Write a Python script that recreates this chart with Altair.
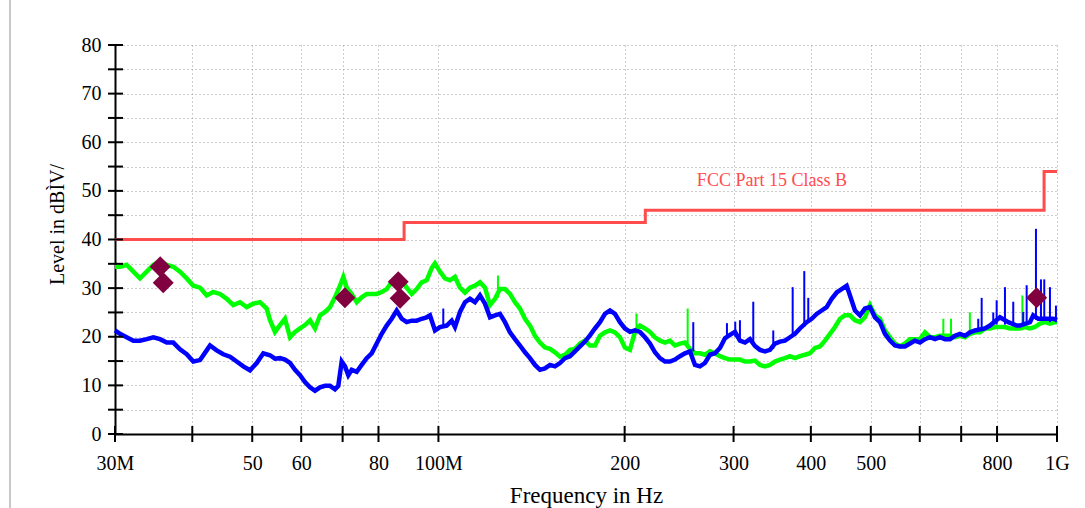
import altair as alt
import pandas as pd

# ---------------- data (MHz, dBµV) ----------------
green_f = [30.0, 30.56, 31.33, 32.12, 32.92, 33.76, 34.60, 35.47, 36.37, 37.27, 38.21, 39.18, 40.15, 41.17,
           42.20, 43.25, 44.35, 45.47, 46.60, 47.77, 48.98, 50.20, 51.47, 52.76, 53.42, 54.42, 55.44, 56.48,
           57.55, 58.63, 59.73, 60.85, 62.00, 63.16, 64.35, 65.56, 66.79, 68.04, 69.32, 70.18, 71.07, 72.41,
           73.77, 75.15, 76.56, 78.00, 79.47, 80.96, 82.48, 84.03, 85.61, 87.22, 88.85, 90.52, 92.22, 93.95,
           95.72, 97.52, 98.72, 100.58, 102.47, 104.39, 106.35, 108.35, 110.39, 112.46, 114.57, 116.72, 118.92,
           121.15, 123.43, 125.74, 128.11, 130.51, 132.96, 135.46, 138.01, 140.60, 143.24, 145.93, 148.67,
           151.47, 154.31, 157.21, 160.16, 163.17, 166.24, 169.36, 172.54, 175.78, 179.09, 182.44, 185.87,
           189.36, 192.92, 196.54, 200.23, 204.00, 207.83, 211.73, 215.71, 219.77, 223.90, 228.10, 232.39,
           236.75, 241.20, 245.74, 250.35, 255.06, 259.85, 264.73, 269.70, 274.77, 279.93, 285.19, 290.55,
           296.01, 301.57, 307.24, 313.01, 318.89, 324.88, 330.98, 337.20, 343.54, 349.99, 356.56, 363.26,
           370.09, 377.04, 384.12, 391.34, 398.70, 406.19, 413.82, 421.59, 429.51, 437.58, 445.80, 454.17,
           462.71, 471.40, 480.25, 489.27, 498.46, 507.83, 517.37, 527.09, 536.99, 547.07, 557.35, 567.82,
           578.49, 589.36, 600.43, 611.71, 623.20, 634.91, 646.84, 658.99, 671.37, 683.98, 696.83, 709.92,
           723.26, 736.85, 750.69, 764.79, 779.15, 793.79, 808.70, 823.89, 839.37, 855.13, 871.19, 887.56,
           904.23, 921.22, 938.52, 956.15, 974.11, 992.41, 1000.0]
green_v = [34.4, 34.4, 34.8, 33.4, 32.0, 33.4, 34.8, 35.5, 34.8, 34.4, 33.4, 32.0, 30.5, 30.1,
           28.5, 29.2, 28.8, 27.8, 26.5, 27.1, 26.1, 26.8, 27.1, 25.8, 23.4, 21.0, 22.4, 23.7,
           19.9, 21.0, 21.7, 22.4, 23.4, 21.7, 24.4, 25.1, 26.1, 28.1, 30.5, 32.3, 30.1, 28.8,
           27.1, 28.1, 28.8, 28.8, 28.8, 29.2, 29.8, 31.2, 32.3, 31.6, 30.1, 28.8, 29.8, 31.2,
           31.6, 34.1, 35.1, 33.4, 32.0, 31.6, 32.3, 30.1, 29.1, 30.1, 30.5, 31.2, 30.1,
           26.5, 27.8, 29.8, 29.8, 28.8, 27.1, 25.8, 23.7, 22.3, 20.2, 18.8, 17.8,
           17.5, 16.8, 15.9, 16.3, 17.3, 17.5, 18.6, 19.2, 18.2, 18.2, 20.2, 20.9,
           21.3, 20.9, 19.9, 17.8, 17.3, 21.0, 22.3, 21.7, 21.0, 19.9, 19.2, 18.8,
           19.2, 18.2, 18.6, 18.8, 17.5, 16.6, 16.6, 16.3, 17.0, 16.6, 16.0, 15.6,
           15.3, 15.3, 15.3, 14.9, 14.9, 15.1, 14.2, 13.9, 14.2, 14.9, 15.3, 15.6,
           16.0, 15.6, 16.0, 16.3, 16.6, 17.7, 18.0, 19.2, 20.6, 22.0, 23.7, 24.4,
           24.4, 23.4, 23.0, 24.0, 26.5, 24.4, 23.7, 21.3, 19.9, 18.6, 18.0, 18.6,
           19.5, 19.5, 19.5, 20.9, 19.9, 19.9, 20.2, 20.2, 20.2, 19.9, 20.2, 19.9,
           20.6, 20.9, 20.9, 21.7, 21.7, 22.0, 22.0, 22.0, 21.7, 21.7, 21.7, 22.0,
           21.7, 22.0, 22.7, 23.0, 22.7, 23.0, 23.0]

blue_f = [30.0, 30.56, 31.33, 32.12, 32.92, 33.76, 34.60, 35.47, 36.37, 37.27, 38.21, 39.18, 40.15, 41.17,
          42.20, 42.73, 43.80, 44.89, 46.03, 47.19, 48.37, 49.59, 50.84, 52.10, 53.42, 54.42, 55.44, 56.48,
          57.55, 58.63, 59.73, 60.85, 62.00, 63.16, 64.35, 65.56, 66.79, 68.04, 68.88, 69.76, 70.62, 71.50,
          72.41, 73.77, 75.15, 76.56, 78.00, 79.47, 80.96, 82.48, 84.03, 85.61, 87.22, 88.85, 90.52, 92.22,
          93.95, 95.72, 96.90, 98.72, 100.58, 103.12, 105.05, 106.35, 108.35, 110.39, 112.46, 114.57, 116.72,
          118.92, 121.15, 123.43, 125.74, 128.11, 130.51, 132.96, 135.46, 138.01, 140.60, 143.24, 145.93,
          148.67, 151.47, 154.31, 157.21, 160.16, 163.17, 166.24, 169.36, 172.54, 175.78, 179.09, 182.44,
          185.87, 189.36, 192.92, 196.54, 200.23, 204.00, 207.83, 211.73, 215.71, 219.77, 223.90, 228.10,
          232.39, 236.75, 241.20, 245.74, 250.35, 255.06, 259.85, 264.73, 269.70, 274.77, 279.93, 285.19,
          290.55, 296.01, 301.57, 307.24, 313.01, 318.89, 324.88, 330.98, 337.20, 343.54, 349.99, 356.56,
          363.26, 370.09, 377.04, 384.12, 393.83, 401.23, 408.77, 416.45, 424.27, 432.24, 440.36, 448.63,
          457.06, 462.71, 471.40, 480.25, 489.27, 498.46, 507.83, 517.37, 527.09, 536.99, 547.07, 557.35,
          567.82, 578.49, 589.36, 600.43, 611.71, 623.20, 634.91, 646.84, 658.99, 671.37, 683.98, 696.83,
          709.92, 723.26, 736.85, 764.79, 779.15, 808.70, 834.07, 860.56, 871.19, 904.23, 915.40, 932.60,
          962.22, 986.15, 1000.0]
blue_v = [21.3, 20.6, 19.9, 19.2, 19.2, 19.5, 19.9, 19.5, 18.8, 18.8, 17.4, 16.4, 14.9, 15.2,
          17.2, 18.2, 17.2, 16.4, 15.9, 14.9, 13.9, 13.1, 14.6, 16.6, 16.2, 15.5, 15.6, 15.3,
          14.6, 13.2, 12.1, 10.7, 9.6, 8.9, 9.6, 9.9, 9.9, 9.2, 9.9, 14.9, 13.9, 12.1,
          13.2, 12.8, 14.2, 15.6, 16.6, 18.6, 20.6, 22.3, 23.7, 25.4, 23.7, 23.0, 23.3, 23.3,
          23.7, 24.0, 24.4, 21.3, 22.0, 22.3, 23.3, 22.0, 25.1, 27.1, 27.8, 27.1, 28.5,
          26.8, 24.0, 24.4, 24.7, 23.0, 20.9, 19.5, 18.2, 16.8, 15.6, 14.2, 13.2,
          13.5, 14.2, 13.9, 14.6, 15.6, 16.0, 17.0, 18.0, 19.0, 20.3, 21.7, 23.0,
          24.7, 25.4, 24.7, 23.0, 21.7, 21.0, 21.3, 21.0, 19.9, 18.6, 16.8, 15.6,
          14.9, 14.9, 15.3, 16.0, 16.6, 17.0, 14.2, 13.9, 14.6, 16.3, 16.6, 17.7,
          19.7, 20.4, 21.0, 19.2, 18.8, 19.5, 18.1, 17.3, 17.0, 17.3, 18.6, 19.0,
          19.2, 19.9, 20.6, 21.7, 23.0, 23.7, 24.7, 25.4, 26.1, 27.8, 29.1, 29.8,
          30.5, 28.5, 25.4, 24.4, 25.8, 26.1, 24.0, 23.0, 20.6, 19.2, 18.2, 18.0,
          18.0, 18.6, 19.2, 18.8, 19.5, 19.9, 19.5, 19.9, 19.5, 19.5, 20.2, 20.6,
          20.2, 20.9, 21.3, 21.7, 22.3, 24.0, 23.0, 22.3, 22.3, 23.0, 24.4, 23.7,
          23.7, 23.7, 23.4]

# narrow spikes of the traces: frequency, foot, top
blue_spike_f = [101.82, 258.21, 292.7, 301.9, 307.2, 322.83, 347.78, 373.83, 390.32, 396.18, 745.95, 755.45,
                788.78, 798.83, 823.89, 849.74, 881.96, 893.19, 924.65, 942.03, 953.67, 974.11, 996.11]
blue_spike_lo = [22.0, 17.0, 19.5, 20.0, 19.0, 18.5, 17.5, 20.0, 22.0, 23.0, 21.5, 21.5,
                 22.5, 22.5, 22.5, 22.5, 22.5, 22.5, 23.5, 23.5, 23.5, 23.0, 23.0]
blue_spike_hi = [25.8, 23.0, 22.8, 23.1, 23.4, 27.2, 21.3, 30.2, 33.5, 28.0, 23.7, 28.0,
                 25.0, 27.5, 30.2, 27.2, 25.1, 30.6, 42.2, 31.8, 31.8, 30.2, 26.4]
green_spike_f = [124.8, 209.0, 252.88, 655.0, 674.0, 723.0, 879.0]
green_spike_lo = [28.0, 21.5, 18.5, 20.0, 20.0, 20.5, 21.7]
green_spike_hi = [32.6, 24.8, 25.8, 23.7, 23.7, 25.0, 28.5]

# measured peaks (diamonds)
mark_f = [35.5, 35.9, 70.6, 86.1, 86.7, 927.0]
mark_v = [34.4, 31.1, 28.0, 31.3, 27.9, 28.0]

# limit line (FCC Part 15 Class B)
limit_f = [30.0, 88.0, 216.0, 953.0, 1000.0]
limit_v = [40.0, 43.5, 46.0, 54.0, 54.0]
limit_label = ["FCC Part 15 Class B"]
limit_label_f = [346.0]
limit_label_v = [52.0]

# axes
x_tick_vals = [30, 40, 50, 60, 70, 80, 100, 200, 300, 400, 500, 600, 700, 800, 1000]
x_label_vals = [30, 50, 60, 80, 100, 200, 300, 400, 500, 800, 1000]
x_label_text = ["30M", "50", "60", "80", "100M", "200", "300", "400", "500", "800", "1G"]
y_tick_vals = list(range(0, 85, 5))

# ---------------- chart ----------------
FONT = "Liberation Serif"
W, H = 942, 389

label_expr = ""
for v, t in zip(x_label_vals, x_label_text):
    label_expr += f"datum.value == {v} ? '{t}' : "
label_expr += "''"

xscale = alt.Scale(type="log", domain=[30, 1000], nice=False)
yscale = alt.Scale(domain=[0, 80], nice=False, zero=False)

xaxis = alt.Axis(values=x_tick_vals, labelExpr=label_expr, grid=True, gridDash=[1, 3],
                 gridColor="#9a9a9a", gridWidth=1, ticks=False, domainColor="black", domainWidth=2,
                 labelFont=FONT, labelFontSize=20, labelColor="black", labelPadding=19,
                 labelOverlap=False, labelFlush=False, labelBound=False,
                 titleFont=FONT, titleFontSize=23, titleFontWeight="normal", titleColor="black",
                 titlePadding=11)
yaxis = alt.Axis(values=y_tick_vals, labelExpr="datum.value % 10 == 0 ? datum.label : ''", grid=True,
                 gridDash=[1, 3], gridColor="#9a9a9a", gridWidth=1, ticks=False, domainColor="black",
                 domainWidth=2, labelFont=FONT, labelFontSize=20, labelColor="black", labelPadding=14,
                 labelOverlap=False, labelFlush=False,
                 titleFont=FONT, titleFontSize=20, titleFontWeight="normal", titleColor="black",
                 titleX=-52, titleY=179, titleAngle=270, titleBaseline="alphabetic", titleAlign="center")

X = alt.X("f:Q", scale=xscale, axis=xaxis, title="Frequency in Hz")
Y = alt.Y("v:Q", scale=yscale, axis=yaxis, title="Level in dBÌV/")

green_df = pd.DataFrame({"f": green_f, "v": green_v})
blue_df = pd.DataFrame({"f": blue_f, "v": blue_v})
bsp_df = pd.DataFrame({"f": blue_spike_f, "v": blue_spike_lo, "v2": blue_spike_hi})
gsp_df = pd.DataFrame({"f": green_spike_f, "v": green_spike_lo, "v2": green_spike_hi})
mark_df = pd.DataFrame({"f": mark_f, "v": mark_v})
lim_df = pd.DataFrame({"f": limit_f, "v": limit_v})
lab_df = pd.DataFrame({"f": limit_label_f, "v": limit_label_v, "t": limit_label})
xt_df = pd.DataFrame({"f": x_tick_vals})
yt_df = pd.DataFrame({"v": y_tick_vals})

limit = alt.Chart(lim_df).mark_line(color="#ff4d4d", strokeWidth=3, interpolate="step-after").encode(x=X, y=Y)
green = alt.Chart(green_df).mark_line(color="#00ff00", strokeWidth=4.5).encode(x=X, y=Y)
gsp = alt.Chart(gsp_df).mark_rule(color="#00ff00", strokeWidth=2).encode(x=X, y=Y, y2="v2:Q")
blue = alt.Chart(blue_df).mark_line(color="#0000ff", strokeWidth=4.5).encode(x=X, y=Y)
bsp = alt.Chart(bsp_df).mark_rule(color="#0000ff", strokeWidth=2).encode(x=X, y=Y, y2="v2:Q")
marks = alt.Chart(mark_df).mark_point(shape="diamond", filled=True, size=440, color="#800040",
                                      opacity=1).encode(x=X, y=Y)
label = alt.Chart(lab_df).mark_text(color="#ff4d4d", font=FONT, fontSize=18, align="center",
                                    baseline="middle").encode(x=X, y=Y, text="t:N")
xticks = alt.Chart(xt_df).mark_rule(color="black", strokeWidth=2).encode(
    x=X, y=alt.value(H - 8), y2=alt.value(H + 8))
yticks = alt.Chart(yt_df).mark_rule(color="black", strokeWidth=2).encode(
    y=Y, x=alt.value(-7), x2=alt.value(8))
border = alt.Chart(yt_df).mark_rule(color="#c8c8c8", strokeWidth=2).encode(
    x=alt.value(-105), y=alt.value(-45), y2=alt.value(H + 80))

chart = alt.layer(limit, green, gsp, blue, bsp, marks, label, xticks, yticks, border).properties(
    width=W, height=H,
    autosize=alt.AutoSizeParams(type="none"),
    padding={"left": 115, "top": 45, "right": 28, "bottom": 74},
    background="white",
).configure_view(stroke=None)

chart.save("out.html", embed_options={"renderer": "svg", "actions": False})
